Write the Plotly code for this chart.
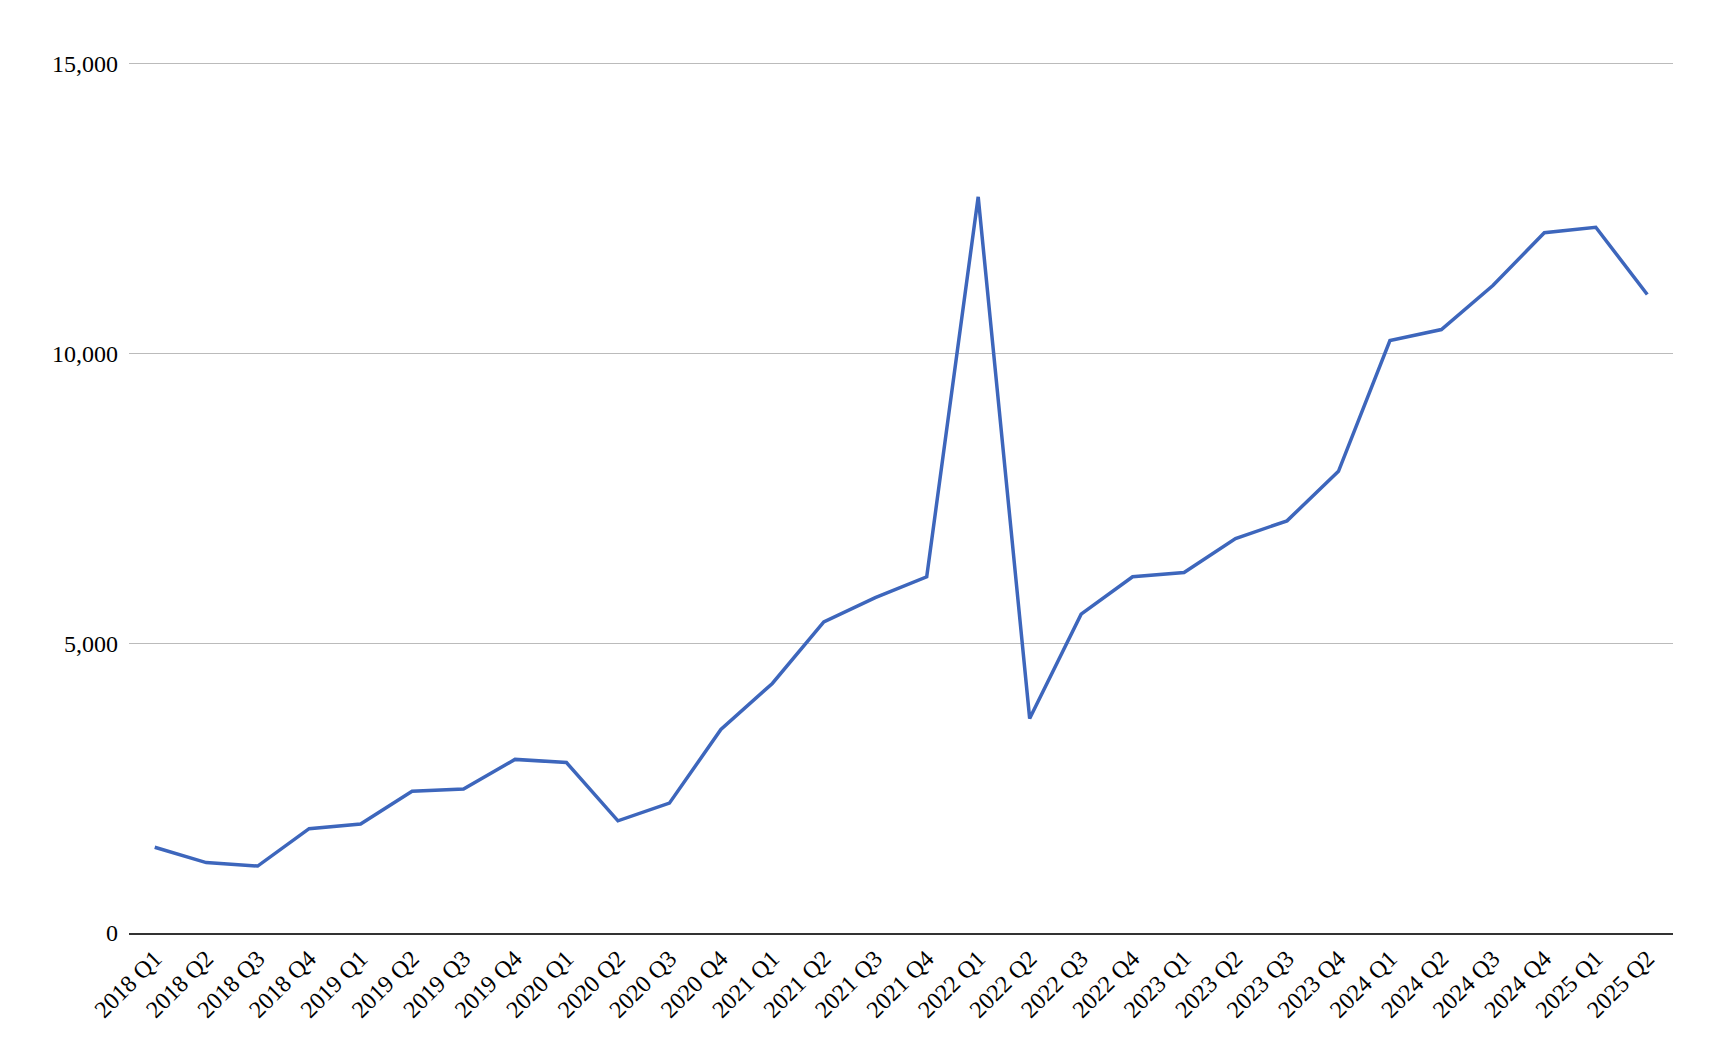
import plotly.graph_objects as go

quarters = [
    "2018 Q1", "2018 Q2", "2018 Q3", "2018 Q4",
    "2019 Q1", "2019 Q2", "2019 Q3", "2019 Q4",
    "2020 Q1", "2020 Q2", "2020 Q3", "2020 Q4",
    "2021 Q1", "2021 Q2", "2021 Q3", "2021 Q4",
    "2022 Q1", "2022 Q2", "2022 Q3", "2022 Q4",
    "2023 Q1", "2023 Q2", "2023 Q3", "2023 Q4",
    "2024 Q1", "2024 Q2", "2024 Q3", "2024 Q4",
    "2025 Q1", "2025 Q2",
]
values = [
    1480, 1215, 1155, 1800,
    1880, 2445, 2485, 2995,
    2940, 1935, 2240, 3510,
    4305, 5365, 5785, 6145,
    12700, 3700, 5500, 6145,
    6220, 6805, 7110, 7965,
    10220, 10410, 11170, 12080,
    12175, 11015,
]

font_family = "Liberation Serif, Times New Roman, serif"

fig = go.Figure(go.Scatter(
    x=quarters, y=values, mode="lines",
    line=dict(color="#3D66BC", width=3.5),
    hovertemplate="%{x}: %{y:,.0f}<extra></extra>",
))

# page body has an 8px margin, so the figure is sized to fit inside it.
# y range runs a little past 15,000 so plotly keeps the top gridline.
fig.update_layout(
    width=1708, height=1048,
    margin=dict(l=121, r=43, t=52, b=123),
    plot_bgcolor="white", paper_bgcolor="white",
    font=dict(family=font_family, size=24, color="black"),
    showlegend=False,
)
fig.update_xaxes(
    tickangle=-45, showgrid=False, showline=True,
    linecolor="#333333", linewidth=2, ticks="",
    range=[-0.5, len(quarters) - 0.5],
)
fig.update_yaxes(
    range=[0, 15060], tickvals=[0, 5000, 10000, 15000], tickformat=",",
    showgrid=True, gridcolor="#BBBBBB", gridwidth=1,
    zeroline=False, showline=False, ticks="", ticklabelstandoff=10,
)

fig.write_html("out.html")
